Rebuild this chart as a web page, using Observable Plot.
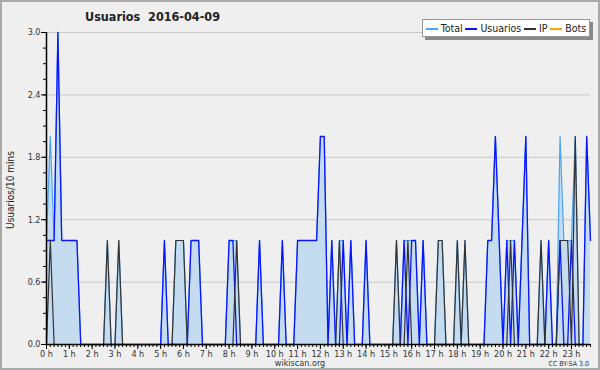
<!DOCTYPE html>
<html>
<head>
<meta charset="utf-8">
<script src="https://cdn.jsdelivr.net/npm/d3@7"></script>
<script src="https://cdn.jsdelivr.net/npm/@observablehq/plot@0.6"></script>
<style>
  html, body { margin: 0; padding: 0; background: #efefef; }
  #wrap { position: relative; width: 600px; height: 370px; background: #efefef; overflow: hidden; font-family: "DejaVu Sans", sans-serif; }
  #wrap svg { position: absolute; left: 0; top: 0; }
  .abs { position: absolute; white-space: nowrap; color: #222; }
  #title { left: 85px; top: 9px; font-size: 12.5px; font-weight: bold; font-family: "DejaVu Sans Condensed", "DejaVu Sans", sans-serif; }
  #ylab { left: 10px; top: 190px; font-size: 10px; transform: translate(-50%, -50%) rotate(-90deg); font-family: "DejaVu Sans Condensed", "DejaVu Sans", sans-serif; }
  #legend { left: 422px; top: 19px; width: 166px; height: 16px; background: #fff; border: 1px solid #999; box-shadow: 3px 3px 0 #888; font-size: 10.5px; display: flex; align-items: center; justify-content: space-evenly; font-family: "DejaVu Sans Condensed", "DejaVu Sans", sans-serif; }
  #legend span.sw { display: inline-block; width: 12px; height: 1.5px; vertical-align: middle; margin-right: 3px; }
  #site { left: 300px; top: 358px; transform: translateX(-50%); font-size: 9px; line-height: 10px; color: #333; font-family: "DejaVu Sans Condensed", "DejaVu Sans", sans-serif; }
  #cc { right: 11px; top: 360px; font-size: 7px; line-height: 8px; color: #333; font-family: "DejaVu Sans Condensed", "DejaVu Sans", sans-serif; }
  #frame { position: absolute; left: 0; top: 0; width: 596px; height: 366px; border: 2px solid #aaa; pointer-events: none; }
</style>
</head>
<body>
<div id="wrap">
  <div id="chart"></div>
  <div class="abs" id="title">Usuarios&nbsp;&nbsp;2016-04-09</div>
  <div class="abs" id="ylab">Usuarios/10 mins</div>
  <div class="abs" id="legend"></div>
  <div class="abs" id="site">wikiscan.org</div>
  <div class="abs" id="cc">CC BY-SA 3.0</div>
  <div id="frame"></div>
</div>
<script>
// 10-minute slots, index 0 = 00:00 ... 143 = 23:50
const usuarios = [
  1,1,1,3,1,1,1,1,1,0, 0,0,0,0,0,0,0,0,0,0, 0,0,0,0,0,0,0,0,0,0,
  0,1,0,0,0,0,0,0,1,1, 1,0,0,0,0,0,0,0,1,1, 0,0,0,0,0,0,1,0,0,0,
  0,0,1,0,0,0,1,1,1,1, 1,1,2,2,0,1,0,0,1,0, 1,0,0,0,1,0,0,0,0,0,
  0,0,0,0,1,0,1,1,0,1, 0,0,0,0,0,0,0,0,0,0, 0,0,0,0,0,0,1,1,2,1,
  0,1,0,1,0,1,2,0,0,0, 0,0,1,0,0,1,0,0,1,0, 0,0,2,1
];
const ip = [
  0,1,0,0,0,0,0,0,0,0, 0,0,0,0,0,0,1,0,0,1, 0,0,0,0,0,0,0,0,0,0,
  0,0,0,0,1,1,1,0,0,0, 0,0,0,0,0,0,0,0,0,0, 1,0,0,0,0,0,0,0,0,0,
  0,0,0,0,0,0,0,0,0,0, 0,0,0,0,0,0,0,1,0,0, 0,0,0,0,0,0,0,0,0,0,
  0,0,1,0,0,1,0,0,0,0, 0,0,0,1,1,0,0,0,1,0, 1,0,0,0,0,0,0,0,0,0,
  0,0,1,0,0,0,0,0,0,0, 1,0,0,0,0,1,1,1,0,2, 0,0,0,0
];
const total = [
  1,2,1,3,1,1,1,1,1,0, 0,0,0,0,0,0,1,0,0,1, 0,0,0,0,0,0,0,0,0,0,
  0,1,0,0,1,1,1,0,1,1, 1,0,0,0,0,0,0,0,1,1, 1,0,0,0,0,0,1,0,0,0,
  0,0,1,0,0,0,1,1,1,1, 1,1,2,2,0,1,0,1,1,0, 1,0,0,0,1,0,0,0,0,0,
  0,0,1,0,1,1,1,1,0,1, 0,0,0,1,1,0,0,0,1,0, 1,0,0,0,0,0,1,1,2,1,
  0,1,1,1,0,1,2,0,0,0, 1,0,1,0,0,2,1,1,1,2, 0,0,2,1
];
const bots = [
  0,0,0,0,0,0,0,0,0,0, 0,0,0,0,0,0,0,0,0,0, 0,0,0,0,0,0,0,0,0,0,
  0,0,0,0,0,0,0,0,0,0, 0,0,0,0,0,0,0,0,0,0, 0,0,0,0,0,0,0,0,0,0,
  0,0,0,0,0,0,0,0,0,0, 0,0,0,0,0,0,0,0,0,0, 0,0,0,0,0,0,0,0,0,0,
  0,0,0,0,0,0,0,0,0,0, 0,0,0,0,0,0,0,0,0,0, 0,0,0,0,0,0,0,0,0,0,
  0,0,0,0,0,0,0,0,0,0, 0,0,0,0,0,0,0,0,0,0, 0,0,0,0
];
const seriesNames = ["Total", "Usuarios", "IP", "Bots"];
const seriesColors = ["#4aa3f5", "#0a14ff", "#333333", "#ffa500"];
const hourLabels = ["0 h","1 h","2 h","3 h","4 h","5 h","6 h","7 h","8 h","9 h","10 h","11 h","12 h","13 h","14 h","15 h","16 h","17 h","18 h","19 h","20 h","21 h","22 h","23 h"];
const yTickValues = [0, 0.6, 1.2, 1.8, 2.4, 3.0];

const rows = usuarios.map((u, i) => ({i, usuarios: u, ip: ip[i], total: total[i], bots: bots[i]}));
const hourTicks = hourLabels.map((_, h) => h * 6);
const minorX = d3.range(0, 144);
const minorY = d3.range(0, 21).map(k => k * 0.15);
const noLabel = () => "";

const chart = Plot.plot({
  width: 600, height: 370,
  marginLeft: 46, marginRight: 10, marginTop: 32, marginBottom: 26,
  style: {background: "transparent", fontFamily: "'DejaVu Sans Condensed', 'DejaVu Sans', sans-serif", fontSize: "9px", color: "#333"},
  x: {domain: [0, 143], axis: null, label: null},
  y: {domain: [0, 3], axis: null, label: null},
  marks: [
    Plot.ruleY(yTickValues.slice(1), {stroke: "#c9c9c9", strokeWidth: 1}),
    Plot.areaY(rows, {x: "i", y: "total", fill: "#c5dcf0", curve: "linear"}),
    Plot.lineY(rows, {x: "i", y: "bots", stroke: seriesColors[3], strokeWidth: 1.2}),
    Plot.lineY(rows, {x: "i", y: "total", stroke: seriesColors[0], strokeWidth: 1.2}),
    Plot.lineY(rows, {x: "i", y: "usuarios", stroke: seriesColors[1], strokeWidth: 1.3}),
    Plot.lineY(rows, {x: "i", y: "ip", stroke: seriesColors[2], strokeWidth: 1.2}),
    Plot.axisY({ticks: minorY, tickSize: 3, tickFormat: noLabel, label: null, stroke: "#000"}),
    Plot.axisY({ticks: yTickValues, tickSize: 5, tickFormat: d3.format(".1f"), tickPadding: 1, label: null, stroke: "#000", fill: "#333"}),
    Plot.axisX({ticks: minorX, tickSize: 3, tickFormat: noLabel, label: null, stroke: "#000"}),
    Plot.axisX({ticks: hourTicks, tickSize: 5, tickFormat: (d, k) => hourLabels[k], tickPadding: 1, label: null, stroke: "#000", fill: "#333"}),
    Plot.ruleX([0], {stroke: "#000", strokeWidth: 1.5}),
    Plot.ruleY([0], {stroke: "#000", strokeWidth: 1.5})
  ]
});
document.getElementById("chart").appendChild(chart);

const legend = document.getElementById("legend");
seriesNames.forEach((name, k) => {
  const item = document.createElement("span");
  item.innerHTML = `<span class="sw" style="background:${seriesColors[k]}"></span>${name}`;
  legend.appendChild(item);
});
</script>
</body>
</html>
